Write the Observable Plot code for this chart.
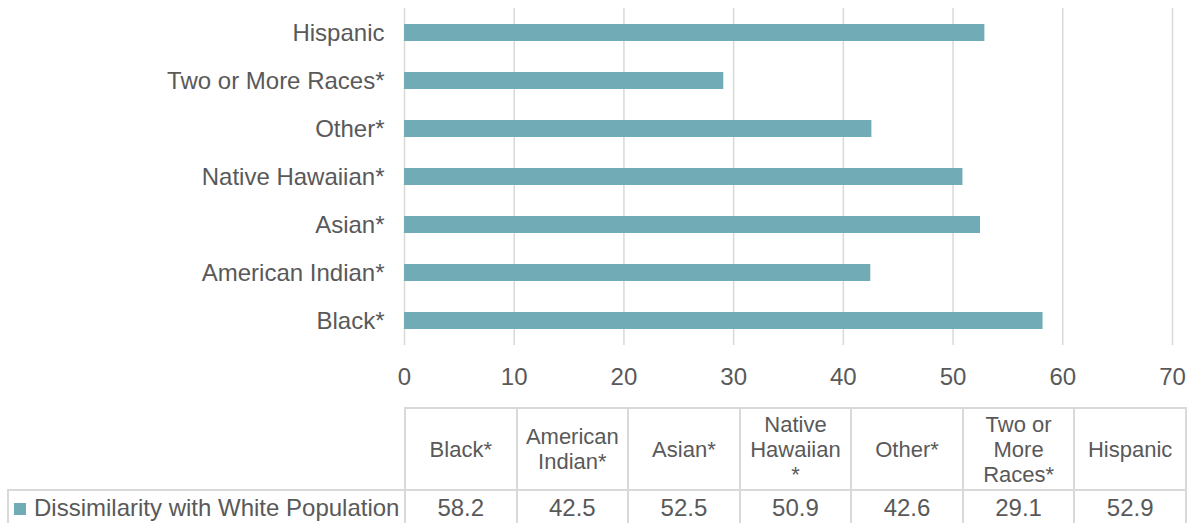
<!DOCTYPE html>
<html>
<head>
<meta charset="utf-8">
<script src="https://cdn.jsdelivr.net/npm/d3@7"></script>
<script src="https://cdn.jsdelivr.net/npm/@observablehq/plot@0.6"></script>
<style>
  html, body { margin: 0; padding: 0; background: #fff; }
  body { width: 1188px; height: 523px; overflow: hidden; font-family: "Liberation Sans", Arial, sans-serif; color: #595959; }
  #chart svg { display: block; }
  table.dt { border-collapse: collapse; table-layout: fixed; margin-left: 7px; font-size: 24px; line-height: 24px; color: #595959; font-family: "Liberation Sans", Arial, sans-serif; }
  table.dt td { border: 2px solid #d9d9d9; text-align: center; vertical-align: middle; padding: 0; overflow: hidden; white-space: nowrap; }
  table.dt tr.head td { height: 80px; font-size: 22px; line-height: 25px; }
  table.dt tr.vals td { height: 34px; }
  table.dt td.empty { border-top: none; border-left: none; }
  table.dt td.legend { text-align: left; padding-left: 5px; }
  .key { display: inline-block; width: 12px; height: 12px; margin-right: 8px; vertical-align: 1px; }
</style>
</head>
<body>
<div id="chart"></div>
<div id="table"></div>
<script>
const categories = ["Black*", "American Indian*", "Asian*", "Native Hawaiian*", "Other*", "Two or More Races*", "Hispanic"];
const values = [58.2, 42.5, 52.5, 50.9, 42.6, 29.1, 52.9];
const headerLabels = ["Black*", "American\nIndian*", "Asian*", "Native\nHawaiian\n*", "Other*", "Two or\nMore\nRaces*", "Hispanic"];
const seriesName = "Dissimilarity with White Population";
const xTicks = [0, 10, 20, 30, 40, 50, 60, 70];
const barColor = "#71acb6";

const data = categories.map((c, i) => ({category: c, value: values[i]}));

const chart = Plot.plot({
  width: 1188,
  height: 407,
  marginLeft: 404,
  marginRight: 16,
  marginTop: 8,
  marginBottom: 62,
  style: {fontFamily: "'Liberation Sans', Arial, sans-serif", fontSize: "24px", color: "#595959", background: "#fff"},
  x: {domain: [0, 70], ticks: xTicks, label: null},
  y: {domain: categories.slice().reverse(), label: null, paddingInner: 0.64, paddingOuter: 0.32},
  marks: [
    Plot.gridX(xTicks, {stroke: "#d9d9d9", strokeOpacity: 1, strokeWidth: 1.5}),
    Plot.barX(data, {x: "value", y: "category", fill: barColor}),
    Plot.axisX({ticks: xTicks, tickSize: 0, tickPadding: 22, fill: "#595959", fontSize: 24, label: null}),
    Plot.axisY({tickSize: 0, tickPadding: 20, fill: "#595959", fontSize: 24, label: null})
  ]
});
document.getElementById("chart").appendChild(chart);

// data table below the chart
const colW = 111.57;
const table = d3.select("#table").append("table").attr("class", "dt");
const cg = table.append("colgroup");
cg.append("col").style("width", "397px");
headerLabels.forEach(() => cg.append("col").style("width", colW + "px"));
table.style("width", (397 + colW * headerLabels.length) + "px");
const head = table.append("tr").attr("class", "head");
head.append("td").attr("class", "empty");
headerLabels.forEach(h => head.append("td").html(h.split("\n").join("<br>")));
const vals = table.append("tr").attr("class", "vals");
const lg = vals.append("td").attr("class", "legend");
lg.append("span").attr("class", "key").style("background", barColor);
lg.append("span").text(seriesName);
values.forEach(v => vals.append("td").text(v.toFixed(1)));
</script>
</body>
</html>
